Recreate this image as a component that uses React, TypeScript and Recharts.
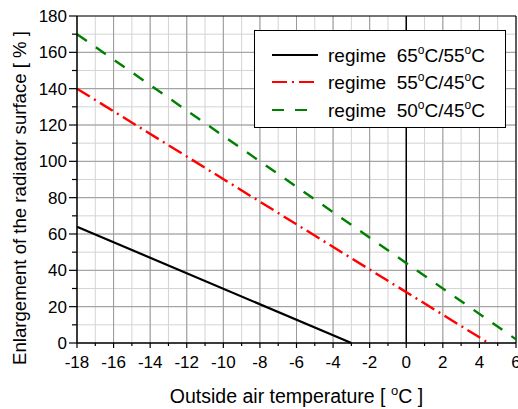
import React from 'react';
import {
  LineChart,
  Line,
  XAxis,
  YAxis,
  CartesianGrid,
  ReferenceLine,
} from 'recharts';

const FONT = '"Liberation Sans", Arial, sans-serif';

// x ticks every 1 °C, labels on the even ones
const xTicks = [-18, -17, -16, -15, -14, -13, -12, -11, -10, -9, -8, -7, -6, -5, -4, -3, -2, -1, 0, 1, 2, 3, 4, 5, 6];
const yTicks = [0, 10, 20, 30, 40, 50, 60, 70, 80, 90, 100, 110, 120, 130, 140, 150, 160, 170, 180];
const majorX = [-16, -14, -12, -10, -8, -6, -4, -2, 2, 4];
const majorY = [20, 40, 60, 80, 100, 120, 140, 160];

// regime 65/55
const blackX = [-18, -3];
const blackY = [64, 0];
// regime 55/45
const redX = [-18, 4.5];
const redY = [140, 0];
// regime 50/45
const greenX = [-18, 6];
const greenY = [170, 2];

const regimes = [
  { hi: '65', lo: '55', color: '#000000', dash: undefined as string | undefined },
  { hi: '55', lo: '45', color: '#ff0000', dash: '15 5 2 5' },
  { hi: '50', lo: '45', color: '#008000', dash: '12 11' },
];

const toPoints = (xs: number[], ys: number[]) => xs.map((x, i) => ({ x, y: ys[i] }));

const XTick = (props: any) => {
  const { x, y, payload } = props;
  const v = payload.value;
  const major = v % 2 === 0;
  return (
    <g>
      <line x1={x} y1={y} x2={x} y2={y + (major ? 5 : 3)} stroke="#000" strokeWidth={1.2} />
      {major && (
        <text x={x} y={y + 25} textAnchor="middle" fontSize={17} fontFamily={FONT} fill="#000">
          {v}
        </text>
      )}
    </g>
  );
};

const YTick = (props: any) => {
  const { x, y, payload } = props;
  const v = payload.value;
  const major = v % 20 === 0;
  return (
    <g>
      <line x1={x} y1={y} x2={x - (major ? 8 : 5)} y2={y} stroke="#000" strokeWidth={1.2} />
      {major && (
        <text x={x - 10} y={y + 6} textAnchor="end" fontSize={17} fontFamily={FONT} fill="#000">
          {v}
        </text>
      )}
    </g>
  );
};

const LegendBox = () => (
  <div
    style={{
      position: 'absolute',
      left: 254,
      top: 30,
      width: 252,
      height: 98,
      border: '1px solid #000',
      background: '#fff',
      fontFamily: FONT,
      fontSize: 19,
      color: '#000',
      paddingTop: 10,
      boxSizing: 'border-box',
    }}
  >
    {regimes.map((r) => (
      <div key={r.hi + r.lo} style={{ display: 'flex', alignItems: 'center', height: 27.5 }}>
        <svg width={46} height={10} style={{ marginLeft: 17, marginRight: 10 }}>
          <line x1={0} y1={5} x2={46} y2={5} stroke={r.color} strokeWidth={2.2} strokeDasharray={r.dash} />
        </svg>
        <span style={{ whiteSpace: 'pre' }}>
          regime  {r.hi}
          <sup style={{ fontSize: 12, verticalAlign: 8 }}>o</sup>C/{r.lo}
          <sup style={{ fontSize: 12, verticalAlign: 8 }}>o</sup>C
        </span>
      </div>
    ))}
  </div>
);

export default function App() {
  return (
    <div style={{ position: 'absolute', left: 0, top: 0, width: 518, height: 409, background: '#fff' }}>
      <LineChart width={518} height={409} margin={{ top: 16, right: 2, bottom: 0, left: 0 }}>
        <CartesianGrid stroke="#d4d4d4" strokeWidth={1} />
        {majorX.map((v) => (
          <ReferenceLine key={'mx' + v} x={v} stroke="#9a9a9a" strokeWidth={1} />
        ))}
        {majorY.map((v) => (
          <ReferenceLine key={'my' + v} y={v} stroke="#9a9a9a" strokeWidth={1} />
        ))}
        <ReferenceLine x={0} stroke="#000" strokeWidth={1.5} />
        <ReferenceLine y={180} stroke="#000" strokeWidth={1.2} />
        <ReferenceLine x={6} stroke="#000" strokeWidth={1.2} />
        <XAxis
          dataKey="x"
          type="number"
          domain={[-18, 6]}
          ticks={xTicks}
          interval={0}
          allowDuplicatedCategory={false}
          height={66}
          tickSize={0}
          tickMargin={0}
          tickLine={false}
          tick={<XTick />}
          axisLine={{ stroke: '#000', strokeWidth: 1.5 }}
          label={(p: any) => {
            const vb = p.viewBox;
            const cx = vb.x + vb.width / 2;
            return (
              <text x={cx} y={403} textAnchor="middle" fontSize={19.5} fontFamily={FONT} fill="#000">
                Outside air temperature [ <tspan fontSize={13} dy={-8}>o</tspan>
                <tspan dy={8}>C ]</tspan>
              </text>
            );
          }}
        />
        <YAxis
          type="number"
          domain={[0, 180]}
          ticks={yTicks}
          interval={0}
          width={77}
          tickSize={0}
          tickMargin={0}
          tickLine={false}
          tick={<YTick />}
          axisLine={{ stroke: '#000', strokeWidth: 1.5 }}
          label={() => (
            <text
              x={19}
              y={198}
              transform="rotate(-90, 19, 198)"
              textAnchor="middle"
              dominantBaseline="central"
              fontSize={18.6}
              fontFamily={FONT}
              fill="#000"
            >
              Enlargement of the radiator surface [ % ]
            </text>
          )}
        />
        <Line
          data={toPoints(blackX, blackY)}
          dataKey="y"
          type="linear"
          stroke="#000000"
          strokeWidth={2.2}
          dot={false}
          isAnimationActive={false}
        />
        <Line
          data={toPoints(redX, redY)}
          dataKey="y"
          type="linear"
          stroke="#ff0000"
          strokeWidth={2.4}
          strokeDasharray="15 5 2 5"
          dot={false}
          isAnimationActive={false}
        />
        <Line
          data={toPoints(greenX, greenY)}
          dataKey="y"
          type="linear"
          stroke="#008000"
          strokeWidth={2.4}
          strokeDasharray="12 11"
          dot={false}
          isAnimationActive={false}
        />
      </LineChart>
      <LegendBox />
    </div>
  );
}
